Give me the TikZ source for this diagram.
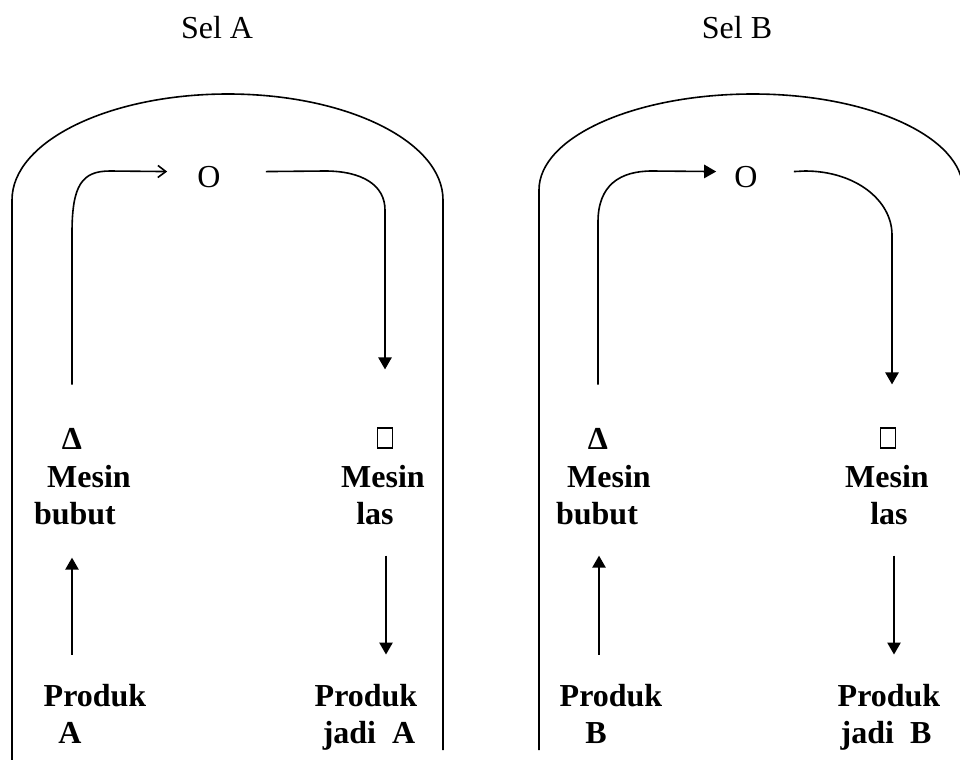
\documentclass[tikz,border=0pt]{standalone}
\usepackage{fontspec}
\setmainfont{Liberation Serif}
\usetikzlibrary{arrows.meta,calc}
\begin{document}
\begin{tikzpicture}[x=0.75pt,y=-0.75pt,
  line/.style={line width=1.2pt},
  farrow/.style={line, -{Triangle[width=10pt,length=9pt]}},
  barrow/.style={line, -{Straight Barb[width=9pt,length=6pt]}},
  lbl/.style={font=\fontsize{24}{27}\selectfont\bfseries, inner sep=0pt, anchor=base},
  ttl/.style={font=\fontsize{24}{27}\selectfont, inner sep=0pt, anchor=base},
  sq/.style={draw, line width=0.9pt, minimum width=11pt, minimum height=15pt, inner sep=0pt}]
\useasboundingbox (0,0) rectangle (960,760);
\clip (0,0) rectangle (960,760);
% titles
\node[ttl] (selA) at (217,38) {Sel A};
\node[ttl] (selB) at (737,38) {Sel B};
% outer cells
\draw[line] (12,760) -- (12,200) .. controls (12,141.5) and (108.7,94) .. (228,94)
  .. controls (346.7,94) and (443,141.5) .. (443,200) -- (443,750);
\draw[line] (539,750) -- (539,190) .. controls (539,137) and (634.8,94) .. (753,94)
  .. controls (869,94) and (963,137) .. (963,190) -- (963,760);
% O nodes
\node[ttl] (oA) at (209,187) {O};
\node[ttl] (oB) at (746,187) {O};
% cell A labels
\node[lbl] (triA) at (72,449) {Δ};
\node[lbl] (mA1) at (89,487) {Mesin};
\node[lbl] (mA2) at (75,524) {bubut};
\node[lbl] (pA1) at (95,706) {Produk};
\node[lbl] (pA2) at (70,743) {A};
\node[sq] (sqA) at (385,438) {};
\node[lbl] (lA1) at (383,487) {Mesin};
\node[lbl] (lA2) at (375,524) {las};
\node[lbl] (jA1) at (366,706) {Produk};
\node[lbl] (jA2) at (369,743) {jadi\ \ A};
% cell B labels
\node[lbl] (triB) at (598,449) {Δ};
\node[lbl] (mB1) at (609,487) {Mesin};
\node[lbl] (mB2) at (597,524) {bubut};
\node[lbl] (pB1) at (611,706) {Produk};
\node[lbl] (pB2) at (596,743) {B};
\node[sq] (sqB) at (888,438) {};
\node[lbl] (lB1) at (887,487) {Mesin};
\node[lbl] (lB2) at (889,524) {las};
\node[lbl] (jB1) at (889,706) {Produk};
\node[lbl] (jB2) at (886,743) {jadi\ \ B};
% cell A connectors
\draw[barrow] ($(triA.north)+(0,-43)$) -- (72,233) .. controls (72,185) and (82,171) .. (110,171)
  -- ($(oA.west)+(-30,-5)$);
\draw[farrow] ($(oA.east)+(45,-5)$) -- (325,171) .. controls (362,171) and (385,185) .. (385,210)
  -- ($(sqA.north)+(0,-58)$);
\draw[farrow] ($(pA1.north -| triA)+(0,-29)$) -- ($(mA2.south -| triA)+(0,33)$);
\draw[farrow] ($(lA2.south -| sqA)+(1,31)$) -- ($(jA1.north -| sqA)+(1,-29)$);
% cell B connectors
\draw[farrow] ($(triB.north)+(0,-43)$) -- (598,222) .. controls (598,185) and (620,171) .. (652,171)
  -- ($(oB.west)+(-18,-5)$);
\draw[farrow] ($(oB.east)+(36,-5)$) -- (805,171) .. controls (855,171) and (892,200) .. (892,235)
  -- ($(sqB.north)+(4,-43)$);
\draw[farrow] ($(pB1.north -| triB)+(1,-29)$) -- ($(mB2.south -| triB)+(1,31)$);
\draw[farrow] ($(lB2.south -| sqB)+(6,31)$) -- ($(jB1.north -| sqB)+(6,-29)$);
\end{tikzpicture}
\end{document}
